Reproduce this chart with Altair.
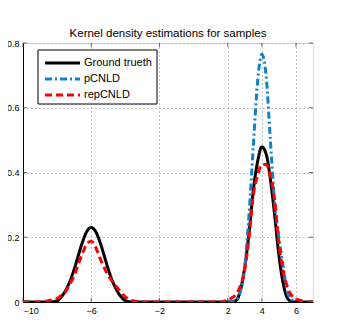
import altair as alt
import pandas as pd

SERIES = ["Ground trueth", "pCNLD", "repCNLD"]
COLORS = ["#000000", "#1380c8", "#ff0000"]
DASHES = [[1, 0], [7, 3, 2, 3], [7, 4]]

X_GRID = [round(-10 + 0.25 * i, 2) for i in range(69)]

truth = [0, 0, 0, 0, 0, 0, 0,
         0.0008, 0.004, 0.016, 0.036, 0.064, 0.101, 0.145, 0.187, 0.2185, 0.23,
         0.2185, 0.187, 0.145, 0.101, 0.064, 0.036, 0.016, 0.004, 0.0008,
         0, 0, 0, 0, 0, 0, 0, 0, 0, 0, 0, 0, 0, 0, 0, 0, 0, 0, 0, 0, 0, 0,
         0.0001, 0.0007, 0.005, 0.037, 0.108, 0.214, 0.345, 0.433, 0.479,
         0.458, 0.38, 0.27, 0.145, 0.058, 0.012, 0.0015, 0.0001,
         0, 0, 0, 0]

rep = [0, 0, 0, 0, 0,
       0.002, 0.004, 0.007, 0.011, 0.02, 0.032, 0.055, 0.081, 0.118, 0.152, 0.18, 0.188,
       0.17, 0.137, 0.107, 0.082, 0.062, 0.046, 0.03, 0.016, 0.008, 0.003, 0.001,
       0, 0, 0, 0, 0, 0, 0, 0, 0, 0, 0, 0, 0, 0, 0, 0, 0, 0, 0,
       0.002, 0.006, 0.013, 0.025, 0.05, 0.10, 0.20, 0.33, 0.39, 0.425,
       0.425, 0.39, 0.315, 0.18, 0.095, 0.047, 0.02, 0.01, 0.005, 0.002,
       0, 0]

P_X = [2.0, 2.25, 2.5, 2.75, 3.0, 3.25, 3.5, 3.75, 4.0, 4.25, 4.5, 4.75, 5.0, 5.25, 5.5, 5.75, 6.0]
pcnld = [0, 0.001, 0.007, 0.035, 0.11, 0.27, 0.48, 0.68, 0.765,
         0.7, 0.5, 0.31, 0.2, 0.11, 0.03, 0.008, 0.002]

X_TICKS = [-10, -6, -2, 2, 4, 6]
Y_TICKS = [0, 0.2, 0.4, 0.6, 0.8]
X_MIN, X_MAX = -10, 7
Y_MIN, Y_MAX = 0, 0.8

rows = []
for xv, yv in zip(X_GRID, truth):
    rows.append({"x": xv, "y": yv, "series": SERIES[0], "k": 0})
for xv, yv in zip(P_X, pcnld):
    rows.append({"x": xv, "y": yv, "series": SERIES[1], "k": 1})
for xv, yv in zip(X_GRID, rep):
    rows.append({"x": xv, "y": yv, "series": SERIES[2], "k": 2})
df = pd.DataFrame(rows)

FONT = "Liberation Sans"
xscale = alt.Scale(domain=[X_MIN, X_MAX], nice=False, zero=False)
yscale = alt.Scale(domain=[Y_MIN, Y_MAX], nice=False)

lines = alt.Chart(df).mark_line(strokeWidth=3, interpolate="monotone", clip=True).encode(
    x=alt.X("x:Q", scale=xscale,
            axis=alt.Axis(values=X_TICKS, title=None, grid=True, format="d",
                          gridDash=[1, 3], gridColor="#888888", gridOpacity=1,
                          tickSize=0, labelPadding=4, labelFontSize=9, labelFont=FONT,
                          labelColor="black", domainColor="black")),
    y=alt.Y("y:Q", scale=yscale,
            axis=alt.Axis(values=Y_TICKS, title=None, grid=True, format="~g",
                          gridDash=[1, 3], gridColor="#888888", gridOpacity=1,
                          tickSize=0, labelPadding=4, labelFontSize=9, labelFont=FONT,
                          labelColor="black", domainColor="black")),
    color=alt.Color("series:N", scale=alt.Scale(domain=SERIES, range=COLORS), legend=None),
    strokeDash=alt.StrokeDash("series:N", scale=alt.Scale(domain=SERIES, range=DASHES), legend=None),
    detail="k:N",
)

# inward tick marks (MATLAB style) on all four sides
xt = pd.DataFrame({"x": X_TICKS, "yb": [Y_MIN] * len(X_TICKS), "yt": [Y_MAX] * len(X_TICKS)})
yt = pd.DataFrame({"y": Y_TICKS, "xl": [X_MIN] * len(Y_TICKS), "xr": [X_MAX] * len(Y_TICKS)})
tick_style = dict(color="#333333", thickness=1, size=4)
ticks = [
    alt.Chart(xt).mark_tick(orient="vertical", yOffset=-2, **tick_style).encode(
        x=alt.X("x:Q", scale=xscale), y=alt.Y("yb:Q", scale=yscale)),
    alt.Chart(xt).mark_tick(orient="vertical", yOffset=2, **tick_style).encode(
        x=alt.X("x:Q", scale=xscale), y=alt.Y("yt:Q", scale=yscale)),
    alt.Chart(yt).mark_tick(orient="horizontal", xOffset=2, **tick_style).encode(
        y=alt.Y("y:Q", scale=yscale), x=alt.X("xl:Q", scale=xscale)),
    alt.Chart(yt).mark_tick(orient="horizontal", xOffset=-2, **tick_style).encode(
        y=alt.Y("y:Q", scale=yscale), x=alt.X("xr:Q", scale=xscale)),
]

one = alt.Data(values=[{"a": 1}])
legend_layers = [
    alt.Chart(one).mark_rect(fill="white", stroke="black", strokeWidth=1).encode(
        x=alt.value(15), x2=alt.value(134), y=alt.value(7), y2=alt.value(61))
]
for i, (name, col, dash) in enumerate(zip(SERIES, COLORS, DASHES)):
    yy = 20 + 16 * i
    legend_layers.append(
        alt.Chart(one).mark_rule(color=col, strokeWidth=3, strokeDash=dash).encode(
            x=alt.value(22), x2=alt.value(57), y=alt.value(yy)))
    legend_layers.append(
        alt.Chart(one).mark_text(text=name, align="left", baseline="middle",
                                 fontSize=11, font=FONT, color="black").encode(
            x=alt.value(61), y=alt.value(yy)))

chart = alt.layer(*ticks, lines, *legend_layers).properties(
    width=290, height=259,
    title=alt.Title("Kernel density estimations for samples", fontSize=11.5,
                    fontWeight="normal", font=FONT, color="black", offset=0),
    padding={"left": 15, "top": 35, "right": 12, "bottom": 25},
    autosize=alt.AutoSizeParams(type="none"),
).configure_view(stroke="black", strokeWidth=1).configure(background="white")

chart.save("out.html", embed_options={"renderer": "svg", "actions": False})
